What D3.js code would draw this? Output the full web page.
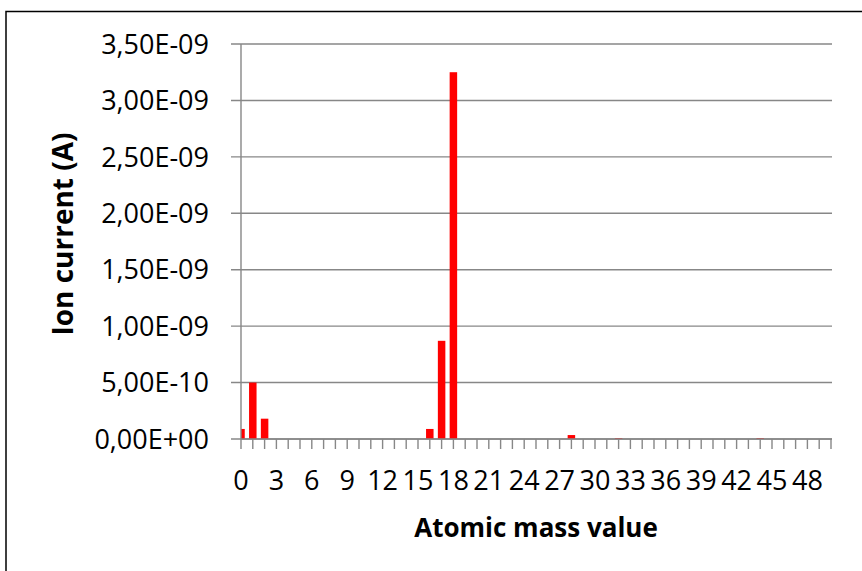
<!DOCTYPE html>
<html>
  <head>
    <meta charset="utf-8">
    <title>Ion current</title>
    <script src="https://d3js.org/d3.v7.min.js"></script>
    <style>
      body { margin: 0; background: #fff; }
      text { font-family: "Open Sans", "Liberation Sans", sans-serif; fill: #000; }
      .grid line, .tick-mark { stroke: #878787; stroke-width: 1.4px; }
    </style>
  </head>
  <body>
    <svg width="862" height="571"></svg>

    <script>
      // atomic mass values 0..50
      var masses = [0, 1, 2, 3, 4, 5, 6, 7, 8, 9,
                    10, 11, 12, 13, 14, 15, 16, 17, 18, 19,
                    20, 21, 22, 23, 24, 25, 26, 27, 28, 29,
                    30, 31, 32, 33, 34, 35, 36, 37, 38, 39,
                    40, 41, 42, 43, 44, 45, 46, 47, 48, 49, 50];

      // ion current (A)
      var current = [8.9e-11, 5.0e-10, 1.8e-10, 0, 0, 0, 0, 0, 0, 0,
                     0, 0, 0, 0, 0, 0, 8.9e-11, 8.7e-10, 3.25e-9, 0,
                     0, 0, 0, 0, 0, 0, 0, 0, 3.5e-11, 0,
                     0, 0, 8e-12, 0, 0, 0, 0, 0, 0, 0,
                     0, 0, 0, 0, 8e-12, 0, 0, 0, 0, 0, 0];

      var yTicks = [0, 5e-10, 1e-9, 1.5e-9, 2e-9, 2.5e-9, 3e-9, 3.5e-9];
      var xLabels = [0, 3, 6, 9, 12, 15, 18, 21, 24, 27, 30, 33, 36, 39, 42, 45, 48];

      var svg = d3.select("svg");

      // plot area edges
      var pLeft = 241, pRight = 831, pTop = 44, pBottom = 439;

      var x = d3.scalePoint()
          .domain(masses)
          .range([pLeft, pRight]);

      var y = d3.scaleLinear()
          .domain([0, 3.5e-9])
          .range([pBottom, pTop]);

      // Excel style "3,50E-09"
      function sci(v) {
        var s = v.toExponential(2).split("e");
        var exp = +s[1];
        var e = (exp < 0 ? "-" : "+") + (Math.abs(exp) < 10 ? "0" : "") + Math.abs(exp);
        return s[0].replace(".", ",") + "E" + e;
      }

      // outer frame
      svg.append("rect")
          .attr("x", 6).attr("y", 11.5)
          .attr("width", 900).attr("height", 600)
          .attr("fill", "none")
          .attr("stroke", "#000")
          .attr("stroke-width", 1.5);

      // gridlines + y tick marks
      svg.append("g").attr("class", "grid")
        .selectAll("line")
        .data(yTicks)
        .enter().append("line")
          .attr("x1", pLeft - 10).attr("x2", pRight + 1)
          .attr("y1", function(d) { return y(d); })
          .attr("y2", function(d) { return y(d); });

      svg.append("defs").append("clipPath").attr("id", "plot")
        .append("rect")
          .attr("x", pLeft).attr("y", 0)
          .attr("width", pRight - pLeft).attr("height", pBottom);

      // bars
      var bw = 7.5;
      svg.append("g")
          .attr("clip-path", "url(#plot)")
        .selectAll("rect")
        .data(masses)
        .enter().append("rect")
          .attr("x", function(d) { return x(d) - bw / 2; })
          .attr("y", function(d, i) { return y(current[i]); })
          .attr("width", bw)
          .attr("height", function(d, i) { return pBottom - y(current[i]); })
          .attr("fill", "#ff0000");

      // axes lines
      svg.append("line").attr("class", "tick-mark")
          .attr("x1", pLeft).attr("x2", pLeft)
          .attr("y1", pTop).attr("y2", pBottom);
      svg.append("line").attr("class", "tick-mark")
          .attr("x1", pLeft).attr("x2", pRight + 1)
          .attr("y1", pBottom).attr("y2", pBottom);

      // x tick marks
      svg.append("g")
        .selectAll("line")
        .data(masses)
        .enter().append("line")
          .attr("class", "tick-mark")
          .attr("x1", function(d) { return x(d); })
          .attr("x2", function(d) { return x(d); })
          .attr("y1", pBottom).attr("y2", pBottom + 10);

      // y tick labels
      svg.append("g")
        .selectAll("text")
        .data(yTicks)
        .enter().append("text")
          .attr("x", 209)
          .attr("y", function(d) { return y(d); })
          .attr("dy", "0.36em")
          .attr("text-anchor", "end")
          .style("font-size", "27px")
          .text(sci);

      // x tick labels
      svg.append("g")
        .selectAll("text")
        .data(xLabels)
        .enter().append("text")
          .attr("x", function(d) { return x(d); })
          .attr("y", 490)
          .attr("text-anchor", "middle")
          .style("font-size", "27px")
          .text(function(d) { return d; });

      // axis titles
      svg.append("text")
          .attr("x", 536).attr("y", 537)
          .attr("text-anchor", "middle")
          .style("font-size", "26px")
          .style("font-weight", "bold")
          .text("Atomic mass value");

      svg.append("text")
          .attr("transform", "translate(73,234) rotate(-90)")
          .attr("text-anchor", "middle")
          .style("font-size", "28px")
          .style("font-weight", "bold")
          .text("Ion current (A)");
    </script>
  </body>
</html>
